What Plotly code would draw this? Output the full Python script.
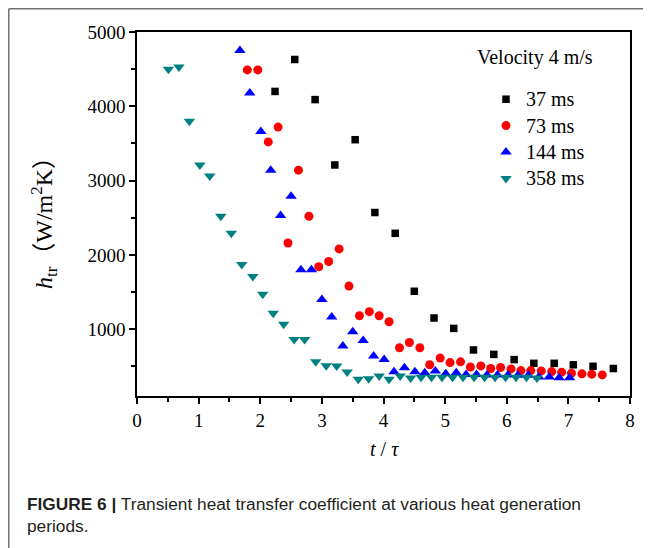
import plotly.graph_objects as go

# ---- data ----
x_37 = [2.24, 2.56, 2.89, 3.21, 3.54, 3.86, 4.19, 4.50, 4.82, 5.14, 5.46, 5.79, 6.12, 6.44, 6.77, 7.08, 7.40, 7.73]
y_37 = [4200, 4630, 4090, 3210, 3550, 2570, 2290, 1510, 1150, 1010, 720, 660, 590, 540, 540, 520, 500, 470]

x_73 = [1.79, 1.96, 2.13, 2.29, 2.45, 2.62, 2.79, 2.95, 3.11, 3.28, 3.44, 3.61, 3.77, 3.93,
        4.09, 4.26, 4.42, 4.59, 4.75, 4.92, 5.08, 5.25, 5.41, 5.58, 5.74, 5.90, 6.07, 6.23,
        6.39, 6.56, 6.73, 6.89, 7.05, 7.22, 7.38, 7.55]
y_73 = [4490, 4490, 3520, 3720, 2160, 3140, 2520, 1840, 1910, 2080, 1580, 1180, 1235, 1180,
        1100, 750, 820, 750, 520, 610, 550, 560, 490, 505, 470, 483, 465, 442,
        442, 438, 429, 421, 407, 398, 394, 384]

x_144 = [1.67, 1.83, 2.01, 2.17, 2.33, 2.50, 2.66, 2.83, 3.00, 3.16, 3.34, 3.50, 3.67, 3.84,
         4.01, 4.17, 4.34, 4.51, 4.67, 4.84, 5.01, 5.18, 5.34, 5.51, 5.68, 5.85, 6.02, 6.18,
         6.35, 6.52, 6.69, 6.85, 7.02]
y_144 = [4750, 4180, 3660, 3140, 2530, 2790, 1800, 1800, 1400, 1165, 772, 964, 848, 637,
         593, 426, 480, 426, 413, 435, 399, 413, 391, 391, 382, 382, 382, 378,
         378, 355, 355, 345, 345]

x_358 = [0.51, 0.68, 0.85, 1.02, 1.18, 1.36, 1.53, 1.70, 1.88, 2.04, 2.21, 2.38, 2.55, 2.72,
         2.90, 3.07, 3.24, 3.41, 3.59, 3.76, 3.93, 4.09, 4.27, 4.44, 4.61, 4.78, 4.95, 5.12,
         5.29, 5.47, 5.64, 5.81, 5.98, 6.15, 6.32, 6.49]
y_358 = [4500, 4530, 3800, 3210, 3060, 2520, 2290, 1870, 1710, 1470, 1215, 1065, 860, 860,
         560, 508, 504, 423, 324, 333, 370, 324, 370, 343, 351, 351, 351, 351,
         351, 351, 351, 351, 351, 351, 351, 343]

series_names = ["37 ms", "73 ms", "144 ms", "358 ms"]
x_ticks = [0, 1, 2, 3, 4, 5, 6, 7, 8]
y_ticks = [1000, 2000, 3000, 4000, 5000]

SERIF = "Liberation Serif, Times New Roman, Noto Sans CJK SC, serif"
SANS = "Liberation Sans, Arial, sans-serif"

fig = go.Figure()
styles = [
    (x_37, y_37, "square", "#000000", 7.5),
    (x_73, y_73, "circle", "#ff0000", 9),
    (x_144, y_144, "triangle-up", "#0000ff", 10),
    (x_358, y_358, "triangle-down", "#008080", 10),
]
for name, (xs, ys, sym, col, sz) in zip(series_names, styles):
    fig.add_trace(go.Scatter(
        x=xs, y=ys, mode="markers",
        name='<span style="font-size:20px">' + name + "</span>",
        marker=dict(symbol=sym, color=col, size=sz, line=dict(width=0)),
    ))

axis_common = dict(
    showline=True, linecolor="black", linewidth=1.6, mirror=True,
    ticks="outside", ticklen=6, tickwidth=1.5, tickcolor="black",
    showgrid=False, zeroline=False,
    tickfont=dict(family=SERIF, size=19, color="black"),
)
fig.update_xaxes(range=[0, 8], tickvals=x_ticks,
                 minor=dict(dtick=0.5, tick0=0, ticks="outside", ticklen=4, tickwidth=1.5, tickcolor="black"),
                 **axis_common)
fig.update_yaxes(range=[100, 5000], tickvals=y_ticks,
                 minor=dict(dtick=500, tick0=0, ticks="outside", ticklen=4, tickwidth=1.5, tickcolor="black"),
                 **axis_common)

# page pixel -> paper coordinates (plot area spans page x 137..630, y 32..396)
def px_x(p):
    return (p - 137) / 493.0

def px_y(p):
    return (396 - p) / 364.0

annotations = [
    dict(text="Velocity 4 m/s", x=px_x(535), y=px_y(58), xanchor="center", yanchor="middle",
         font=dict(family=SERIF, size=20, color="black")),
    dict(text="<i>t</i> / <i>τ</i>", x=px_x(384), y=px_y(449), xanchor="center", yanchor="middle",
         font=dict(family=SERIF, size=20, color="black")),
    dict(text="<i>h</i><sub>tr</sub>（W/m<sup>2</sup>K）", x=px_x(44), y=px_y(217), textangle=-90,
         xanchor="center", yanchor="middle", font=dict(family=SERIF, size=24, color="black")),
    dict(text="<b>FIGURE 6 |</b> Transient heat transfer coefficient at various heat generation",
         x=px_x(25), y=px_y(504), xanchor="left", yanchor="middle",
         font=dict(family=SANS, size=17.3, color="#231f20")),
    dict(text="periods.", x=px_x(25), y=px_y(526), xanchor="left", yanchor="middle",
         font=dict(family=SANS, size=17.3, color="#231f20")),
]
for a in annotations:
    a.update(xref="paper", yref="paper", showarrow=False)

shapes = [
    dict(type="line", xref="paper", yref="paper", x0=px_x(8.8), x1=px_x(8.8), y0=px_y(8.8), y1=px_y(560),
         line=dict(color="#707070", width=1.5)),
    dict(type="line", xref="paper", yref="paper", x0=px_x(8.8), x1=px_x(660), y0=px_y(8.8), y1=px_y(8.8),
         line=dict(color="#707070", width=1.5)),
]

fig.update_layout(
    width=643, height=540,
    margin=dict(l=129, r=21, t=24, b=152),
    paper_bgcolor="white", plot_bgcolor="white",
    showlegend=True,
    legend=dict(x=px_x(486), y=px_y(81), xanchor="left", yanchor="top",
                bgcolor="rgba(0,0,0,0)", borderwidth=0,
                font=dict(family=SERIF, size=18, color="black"),
                tracegroupgap=0),
    annotations=annotations,
    shapes=shapes,
)

fig.write_html("out.html")
